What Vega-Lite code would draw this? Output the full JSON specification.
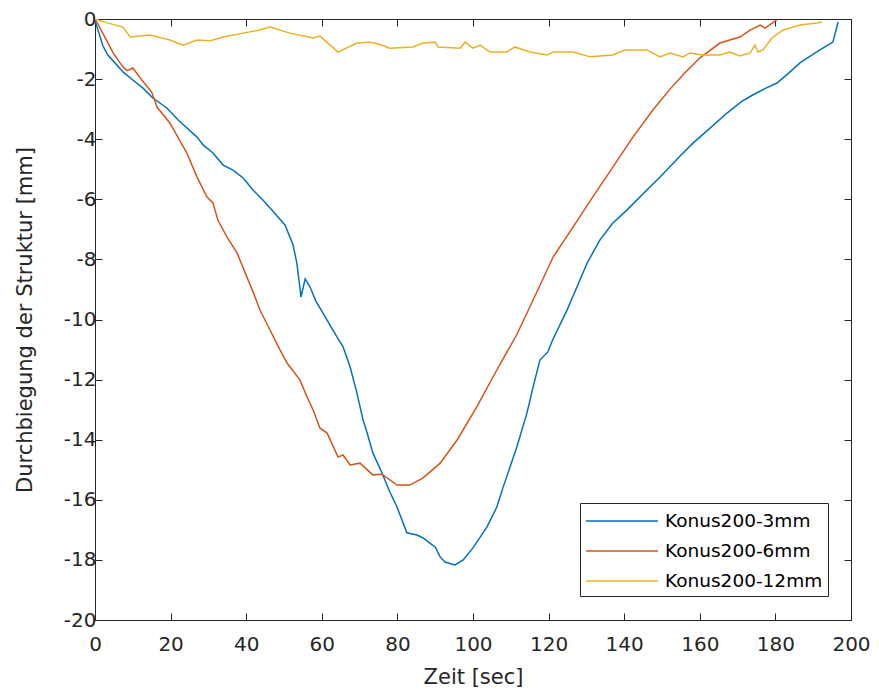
{
  "$schema": "https://vega.github.io/schema/vega-lite/v6.json",
  "width": 756,
  "height": 601,
  "autosize": {"type": "none"},
  "padding": {"left": 95, "top": 19, "right": 28, "bottom": 75},
  "background": "white",
  "config": {
    "view": {"stroke": "#262626", "strokeWidth": 1},
    "axis": {"grid": false, "domainColor": "#262626", "tickColor": "#262626", "labelColor": "#262626", "titleColor": "#262626", "labelFont": "DejaVu Sans", "titleFont": "DejaVu Sans", "labelFontSize": 20, "titleFontSize": 21, "titleFontWeight": "normal", "tickSize": -7, "domainWidth": 1, "tickWidth": 1, "labelExpr": "'' + datum.value"}
  },
  "data": {"values": [
    {"s":"Konus200-3mm","t":0,"y":0},{"s":"Konus200-3mm","t":0.4,"y":-0.22},{"s":"Konus200-3mm","t":1.3,"y":-0.57},{"s":"Konus200-3mm","t":2.1,"y":-0.9},{"s":"Konus200-3mm","t":3.4,"y":-1.2},{"s":"Konus200-3mm","t":5.3,"y":-1.46},{"s":"Konus200-3mm","t":7.4,"y":-1.76},{"s":"Konus200-3mm","t":10,"y":-2.03},{"s":"Konus200-3mm","t":12.7,"y":-2.3},{"s":"Konus200-3mm","t":15.3,"y":-2.63},{"s":"Konus200-3mm","t":19,"y":-2.96},{"s":"Konus200-3mm","t":22,"y":-3.36},{"s":"Konus200-3mm","t":27,"y":-3.93},{"s":"Konus200-3mm","t":28.6,"y":-4.19},{"s":"Konus200-3mm","t":31.2,"y":-4.46},{"s":"Konus200-3mm","t":33.9,"y":-4.86},{"s":"Konus200-3mm","t":36.5,"y":-5.03},{"s":"Konus200-3mm","t":39.2,"y":-5.29},{"s":"Konus200-3mm","t":41.8,"y":-5.69},{"s":"Konus200-3mm","t":44.4,"y":-6.02},{"s":"Konus200-3mm","t":46.8,"y":-6.36},{"s":"Konus200-3mm","t":50.3,"y":-6.86},{"s":"Konus200-3mm","t":52.4,"y":-7.52},{"s":"Konus200-3mm","t":53.4,"y":-8.12},{"s":"Konus200-3mm","t":54.5,"y":-9.25},{"s":"Konus200-3mm","t":55.6,"y":-8.65},{"s":"Konus200-3mm","t":56.9,"y":-8.92},{"s":"Konus200-3mm","t":58.4,"y":-9.38},{"s":"Konus200-3mm","t":61.4,"y":-10.02},{"s":"Konus200-3mm","t":64,"y":-10.58},{"s":"Konus200-3mm","t":65.6,"y":-10.9},{"s":"Konus200-3mm","t":67.5,"y":-11.58},{"s":"Konus200-3mm","t":69.3,"y":-12.45},{"s":"Konus200-3mm","t":70.9,"y":-13.34},{"s":"Konus200-3mm","t":72,"y":-13.78},{"s":"Konus200-3mm","t":73.5,"y":-14.44},{"s":"Konus200-3mm","t":75.9,"y":-15.1},{"s":"Konus200-3mm","t":78,"y":-15.74},{"s":"Konus200-3mm","t":79.9,"y":-16.24},{"s":"Konus200-3mm","t":82.5,"y":-17.1},{"s":"Konus200-3mm","t":85.2,"y":-17.17},{"s":"Konus200-3mm","t":86.8,"y":-17.27},{"s":"Konus200-3mm","t":89.2,"y":-17.5},{"s":"Konus200-3mm","t":90,"y":-17.57},{"s":"Konus200-3mm","t":91.3,"y":-17.9},{"s":"Konus200-3mm","t":92.6,"y":-18.07},{"s":"Konus200-3mm","t":95.2,"y":-18.17},{"s":"Konus200-3mm","t":97.4,"y":-18.0},{"s":"Konus200-3mm","t":100,"y":-17.6},{"s":"Konus200-3mm","t":103.7,"y":-16.9},{"s":"Konus200-3mm","t":106.3,"y":-16.24},{"s":"Konus200-3mm","t":108,"y":-15.57},{"s":"Konus200-3mm","t":111.6,"y":-14.24},{"s":"Konus200-3mm","t":114.3,"y":-13.1},{"s":"Konus200-3mm","t":115.9,"y":-12.25},{"s":"Konus200-3mm","t":117.7,"y":-11.35},{"s":"Konus200-3mm","t":119.8,"y":-11.08},{"s":"Konus200-3mm","t":121,"y":-10.7},{"s":"Konus200-3mm","t":124.9,"y":-9.68},{"s":"Konus200-3mm","t":127.5,"y":-8.92},{"s":"Konus200-3mm","t":130.2,"y":-8.12},{"s":"Konus200-3mm","t":133.6,"y":-7.35},{"s":"Konus200-3mm","t":137,"y":-6.79},{"s":"Konus200-3mm","t":140.7,"y":-6.36},{"s":"Konus200-3mm","t":146,"y":-5.69},{"s":"Konus200-3mm","t":149.5,"y":-5.26},{"s":"Konus200-3mm","t":154.8,"y":-4.56},{"s":"Konus200-3mm","t":158.2,"y":-4.13},{"s":"Konus200-3mm","t":163,"y":-3.6},{"s":"Konus200-3mm","t":167.2,"y":-3.13},{"s":"Konus200-3mm","t":171,"y":-2.75},{"s":"Konus200-3mm","t":174,"y":-2.53},{"s":"Konus200-3mm","t":177.5,"y":-2.3},{"s":"Konus200-3mm","t":180.4,"y":-2.13},{"s":"Konus200-3mm","t":183.5,"y":-1.8},{"s":"Konus200-3mm","t":186.5,"y":-1.46},{"s":"Konus200-3mm","t":189,"y":-1.25},{"s":"Konus200-3mm","t":191.8,"y":-1.03},{"s":"Konus200-3mm","t":195.2,"y":-0.77},{"s":"Konus200-3mm","t":196.6,"y":-0.1},

    {"s":"Konus200-6mm","t":0,"y":0},{"s":"Konus200-6mm","t":2.4,"y":-0.55},{"s":"Konus200-6mm","t":4.8,"y":-1.13},{"s":"Konus200-6mm","t":7.4,"y":-1.6},{"s":"Konus200-6mm","t":8.5,"y":-1.72},{"s":"Konus200-6mm","t":10,"y":-1.63},{"s":"Konus200-6mm","t":12.5,"y":-2.05},{"s":"Konus200-6mm","t":15,"y":-2.43},{"s":"Konus200-6mm","t":16.4,"y":-2.93},{"s":"Konus200-6mm","t":19.8,"y":-3.46},{"s":"Konus200-6mm","t":22,"y":-3.95},{"s":"Konus200-6mm","t":24.3,"y":-4.46},{"s":"Konus200-6mm","t":27,"y":-5.26},{"s":"Konus200-6mm","t":29.6,"y":-5.92},{"s":"Konus200-6mm","t":31.2,"y":-6.12},{"s":"Konus200-6mm","t":32.5,"y":-6.69},{"s":"Konus200-6mm","t":34.9,"y":-7.25},{"s":"Konus200-6mm","t":37.6,"y":-7.79},{"s":"Konus200-6mm","t":40.2,"y":-8.59},{"s":"Konus200-6mm","t":41.8,"y":-9.08},{"s":"Konus200-6mm","t":43.7,"y":-9.7},{"s":"Konus200-6mm","t":46.3,"y":-10.35},{"s":"Konus200-6mm","t":48.5,"y":-10.9},{"s":"Konus200-6mm","t":50.8,"y":-11.45},{"s":"Konus200-6mm","t":54.2,"y":-12.01},{"s":"Konus200-6mm","t":56.1,"y":-12.58},{"s":"Konus200-6mm","t":57.7,"y":-13.01},{"s":"Konus200-6mm","t":59.5,"y":-13.61},{"s":"Konus200-6mm","t":61.4,"y":-13.78},{"s":"Konus200-6mm","t":64.3,"y":-14.58},{"s":"Konus200-6mm","t":65.6,"y":-14.51},{"s":"Konus200-6mm","t":67.5,"y":-14.84},{"s":"Konus200-6mm","t":70.1,"y":-14.78},{"s":"Konus200-6mm","t":73.5,"y":-15.17},{"s":"Konus200-6mm","t":75.9,"y":-15.15},{"s":"Konus200-6mm","t":79.9,"y":-15.51},{"s":"Konus200-6mm","t":83.3,"y":-15.51},{"s":"Konus200-6mm","t":86.8,"y":-15.27},{"s":"Konus200-6mm","t":91.3,"y":-14.78},{"s":"Konus200-6mm","t":95.8,"y":-14.01},{"s":"Konus200-6mm","t":101,"y":-12.91},{"s":"Konus200-6mm","t":106.3,"y":-11.68},{"s":"Konus200-6mm","t":111.6,"y":-10.5},{"s":"Konus200-6mm","t":115.9,"y":-9.35},{"s":"Konus200-6mm","t":121.2,"y":-7.92},{"s":"Konus200-6mm","t":126.5,"y":-6.92},{"s":"Konus200-6mm","t":131.7,"y":-5.92},{"s":"Konus200-6mm","t":137,"y":-4.93},{"s":"Konus200-6mm","t":142.3,"y":-3.93},{"s":"Konus200-6mm","t":147.6,"y":-3.03},{"s":"Konus200-6mm","t":152,"y":-2.35},{"s":"Konus200-6mm","t":156,"y":-1.8},{"s":"Konus200-6mm","t":160,"y":-1.3},{"s":"Konus200-6mm","t":165.3,"y":-0.8},{"s":"Konus200-6mm","t":170.6,"y":-0.6},{"s":"Konus200-6mm","t":173.3,"y":-0.37},{"s":"Konus200-6mm","t":176,"y":-0.2},{"s":"Konus200-6mm","t":177.2,"y":-0.3},{"s":"Konus200-6mm","t":180.4,"y":-0.03},

    {"s":"Konus200-12mm","t":0,"y":0},{"s":"Konus200-12mm","t":3,"y":-0.12},{"s":"Konus200-12mm","t":7.4,"y":-0.27},{"s":"Konus200-12mm","t":9.3,"y":-0.6},{"s":"Konus200-12mm","t":14.6,"y":-0.53},{"s":"Konus200-12mm","t":19.8,"y":-0.7},{"s":"Konus200-12mm","t":23.3,"y":-0.87},{"s":"Konus200-12mm","t":27,"y":-0.7},{"s":"Konus200-12mm","t":30.5,"y":-0.72},{"s":"Konus200-12mm","t":33.9,"y":-0.6},{"s":"Konus200-12mm","t":39.2,"y":-0.47},{"s":"Konus200-12mm","t":43,"y":-0.38},{"s":"Konus200-12mm","t":46.3,"y":-0.27},{"s":"Konus200-12mm","t":51.6,"y":-0.47},{"s":"Konus200-12mm","t":57.7,"y":-0.63},{"s":"Konus200-12mm","t":59.5,"y":-0.57},{"s":"Konus200-12mm","t":64.3,"y":-1.1},{"s":"Konus200-12mm","t":69.3,"y":-0.8},{"s":"Konus200-12mm","t":72.8,"y":-0.77},{"s":"Konus200-12mm","t":75.4,"y":-0.85},{"s":"Konus200-12mm","t":78,"y":-0.97},{"s":"Konus200-12mm","t":84.1,"y":-0.93},{"s":"Konus200-12mm","t":86.8,"y":-0.8},{"s":"Konus200-12mm","t":90,"y":-0.77},{"s":"Konus200-12mm","t":90.7,"y":-0.93},{"s":"Konus200-12mm","t":96.6,"y":-0.97},{"s":"Konus200-12mm","t":97.9,"y":-0.77},{"s":"Konus200-12mm","t":100,"y":-0.97},{"s":"Konus200-12mm","t":101.9,"y":-0.87},{"s":"Konus200-12mm","t":104.5,"y":-1.1},{"s":"Konus200-12mm","t":109,"y":-1.1},{"s":"Konus200-12mm","t":111.1,"y":-0.93},{"s":"Konus200-12mm","t":115.1,"y":-1.1},{"s":"Konus200-12mm","t":119.6,"y":-1.2},{"s":"Konus200-12mm","t":121.2,"y":-1.1},{"s":"Konus200-12mm","t":126.5,"y":-1.1},{"s":"Konus200-12mm","t":131,"y":-1.26},{"s":"Konus200-12mm","t":137,"y":-1.2},{"s":"Konus200-12mm","t":140.2,"y":-1.03},{"s":"Konus200-12mm","t":146,"y":-1.03},{"s":"Konus200-12mm","t":149.5,"y":-1.26},{"s":"Konus200-12mm","t":152.1,"y":-1.13},{"s":"Konus200-12mm","t":155.6,"y":-1.26},{"s":"Konus200-12mm","t":157.4,"y":-1.13},{"s":"Konus200-12mm","t":160.8,"y":-1.2},{"s":"Konus200-12mm","t":165.3,"y":-1.2},{"s":"Konus200-12mm","t":168,"y":-1.1},{"s":"Konus200-12mm","t":170.6,"y":-1.23},{"s":"Konus200-12mm","t":173.3,"y":-1.13},{"s":"Konus200-12mm","t":174.6,"y":-0.87},{"s":"Konus200-12mm","t":175.4,"y":-1.1},{"s":"Konus200-12mm","t":176.7,"y":-1.03},{"s":"Konus200-12mm","t":179.1,"y":-0.63},{"s":"Konus200-12mm","t":182,"y":-0.37},{"s":"Konus200-12mm","t":186.5,"y":-0.2},{"s":"Konus200-12mm","t":191,"y":-0.13},{"s":"Konus200-12mm","t":192.3,"y":-0.1}
  ]},
  "layer": [
    {
      "mark": {"type": "line", "strokeWidth": 1.5, "clip": true},
      "encoding": {
        "x": {"field": "t", "type": "quantitative", "scale": {"domain": [0, 200], "nice": false}, "axis": {"orient": "bottom", "values": [0,20,40,60,80,100,120,140,160,180,200], "title": "Zeit [sec]", "labelPadding": 21, "titlePadding": 12, "labelFlush": false}},
        "y": {"field": "y", "type": "quantitative", "scale": {"domain": [-20, 0], "nice": false}, "axis": {"orient": "left", "values": [-20,-18,-16,-14,-12,-10,-8,-6,-4,-2,0], "title": "Durchbiegung der Struktur [mm]", "labelPadding": 6, "titlePadding": 28, "labelFlush": false}},
        "color": {"field": "s", "type": "nominal", "sort": ["Konus200-3mm", "Konus200-6mm", "Konus200-12mm"], "scale": {"domain": ["Konus200-3mm", "Konus200-6mm", "Konus200-12mm"], "range": ["#0072BD", "#D95319", "#EDB120"]},
          "legend": {"orient": "none", "legendX": 485, "legendY": 484, "title": null, "symbolType": "M-3,0H3", "symbolSize": 576, "symbolStrokeWidth": 1.5, "labelFont": "DejaVu Sans", "labelFontSize": 18.5, "labelColor": "#000000", "strokeColor": "#262626", "fillColor": "white", "padding": 5, "rowPadding": 7, "symbolOffset": 24, "labelOffset": 30, "labelLimit": 0}}
      }
    },
    {
      "mark": {"type": "line", "opacity": 0},
      "encoding": {
        "x": {"field": "t", "type": "quantitative", "axis": {"orient": "top", "values": [0,20,40,60,80,100,120,140,160,180,200], "labels": false, "title": null}},
        "y": {"field": "y", "type": "quantitative", "axis": {"orient": "right", "values": [-20,-18,-16,-14,-12,-10,-8,-6,-4,-2,0], "labels": false, "title": null}}
      }
    }
  ],
  "resolve": {"axis": {"x": "independent", "y": "independent"}}
}
